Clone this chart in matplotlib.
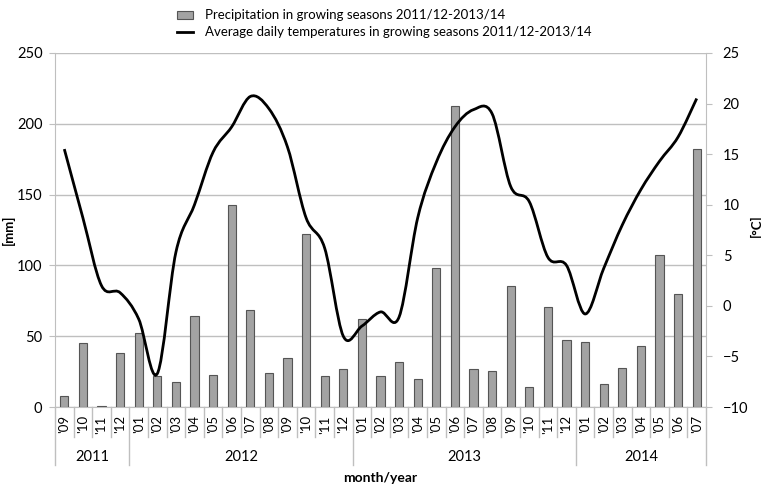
import numpy as np
import matplotlib.pyplot as plt
from matplotlib.path import Path
from matplotlib.patches import PathPatch, Patch
from matplotlib.lines import Line2D

plt.rcParams['font.family'] = ['Lato', 'DejaVu Sans']

# months of the growing seasons, '09 2011 .. '07 2014
years = ['2011', '2012', '2013', '2014']
months_per_year = [['09', '10', '11', '12'],
                   ['01', '02', '03', '04', '05', '06', '07', '08', '09', '10', '11', '12'],
                   ['01', '02', '03', '04', '05', '06', '07', '08', '09', '10', '11', '12'],
                   ['01', '02', '03', '04', '05', '06', '07']]
month_labels = ["'" + m for ms in months_per_year for m in ms]

# precipitation [mm]
precip = [8, 45, 0.5, 38,
          52, 22, 18, 64, 22.5, 142.5, 68.5, 24, 34.5, 122.5, 22, 27,
          62, 22, 32, 20, 98, 212.5, 27, 25.5, 85.5, 14, 70.5, 47,
          46, 16.5, 27.5, 43, 107, 80, 182.5]

# average daily temperature [°C]
temp = [15.5, 8.7, 2.0, 1.3,
        -1.3, -6.7, 5.3, 10.0, 15.2, 17.7, 20.7, 19.5, 15.7, 8.7, 5.7, -3.0,
        -2.0, -0.6, -1.1, 8.7, 14.2, 17.7, 19.4, 19.0, 11.8, 10.3, 4.8, 4.0,
        -0.8, 3.7, 8.0, 11.5, 14.3, 16.7, 20.5]

n = len(precip)
x = np.arange(n)

fig = plt.figure(figsize=(7.61, 4.86), dpi=100)
ax = fig.add_axes([55/761, 1 - 407/486, 651/761, 354/486])

ax.bar(x, precip, width=0.45, color='#a3a3a3', edgecolor='#555555', linewidth=0.8, zorder=3)
ax.set_xlim(-0.5, n - 0.5)
ax.set_ylim(0, 250)
ax.set_yticks(range(0, 251, 50))
ax.yaxis.grid(True, color='#bfbfbf', linewidth=1, zorder=0)
ax.set_axisbelow(True)
for s in ['left', 'right', 'bottom']:
    ax.spines[s].set_color('#bfbfbf')
ax.spines['top'].set_visible(False)
ax.tick_params(axis='y', colors='#bfbfbf', labelcolor='black', labelsize=10.5, length=4, pad=5)

ax.set_xticks(x)
ax.set_xticklabels(month_labels, rotation=90, fontsize=9.5)
ax.tick_params(axis='x', length=0, pad=6)

# separators of the two-level category axis
tr = ax.get_xaxis_transform()
year_edges = np.cumsum([0] + [len(m) for m in months_per_year]) - 0.5
for b in np.arange(-0.5, n, 1.0):
    low = -0.164 if b in year_edges else -0.085
    ax.plot([b, b], [0, low], transform=tr, color='#bfbfbf', linewidth=1, clip_on=False)
for i, yr in enumerate(years):
    ax.text((year_edges[i] + year_edges[i + 1]) / 2, -0.141, yr, transform=tr,
            ha='center', va='center', fontsize=10.5)
ax.text(0.5, -0.200, 'month/year', transform=ax.transAxes, ha='center', va='center',
        fontsize=10, fontweight='bold')

# temperature on the secondary axis, smoothed like a spreadsheet line
ax2 = ax.twinx()
ax2.set_ylim(-10, 25)
ax2.set_yticks(range(-10, 26, 5))
ax2.tick_params(axis='y', colors='#bfbfbf', labelcolor='black', labelsize=10.5, length=4, pad=8)
for s in ax2.spines.values():
    s.set_visible(False)

pts = np.column_stack([x, temp]).astype(float)
ext = np.vstack([pts[0], pts, pts[-1]])
verts = [pts[0]]
codes = [Path.MOVETO]
for i in range(n - 1):
    p0, p1, p2, p3 = ext[i], ext[i + 1], ext[i + 2], ext[i + 3]
    verts += [p1 + (p2 - p0) / 6, p2 - (p3 - p1) / 6, p2]
    codes += [Path.CURVE4] * 3
ax2.add_patch(PathPatch(Path(verts, codes), facecolor='none', edgecolor='black',
                        linewidth=2, zorder=4))

# axis titles
fig.text(8/761, 1 - 230/486, '[mm]', rotation=90, ha='center', va='center',
         fontsize=9.5, fontweight='bold')
fig.text(756/761, 1 - 226/486, '[°C]', rotation=90, ha='center', va='center',
         fontsize=9.5, fontweight='bold')

handles = [Patch(facecolor='#a3a3a3', edgecolor='#555555', linewidth=0.8),
           Line2D([], [], color='black', linewidth=2)]
fig.legend(handles, ['Precipitation in growing seasons 2011/12-2013/14',
                     'Average daily temperatures in growing seasons 2011/12-2013/14'],
           loc='upper center', bbox_to_anchor=(0.505, 1.005), frameon=False, fontsize=9.5,
           handlelength=1.2, handleheight=0.6, labelspacing=0.35, handletextpad=0.9)

fig.savefig('out.png', dpi=100)
